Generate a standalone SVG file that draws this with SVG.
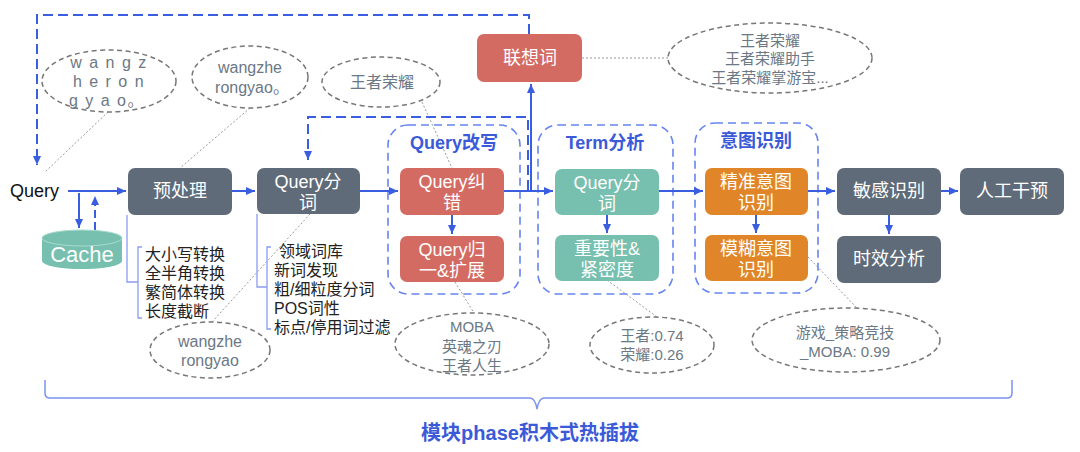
<svg xmlns="http://www.w3.org/2000/svg" width="1080" height="452" viewBox="0 0 1080 452">
<defs>
<marker id="arr" markerUnits="userSpaceOnUse" markerWidth="9" markerHeight="8" refX="9" refY="4" orient="auto"><path d="M0,0 L9,4 L0,8 z" fill="#3a5ee0"/></marker>
<style>
text{font-family:"Liberation Sans","Noto Sans CJK SC",sans-serif;}
.box{stroke:none;}
.gray{fill:#5f6b78;}
.red{fill:#d46b62;}
.teal{fill:#77bfae;}
.orange{fill:#e08629;}
.bt{fill:#ffffff;font-size:18px;text-anchor:middle;}
.grp{fill:none;stroke:#6685ef;stroke-width:1.6;stroke-dasharray:8 5;}
.gt{fill:#3a5ad8;font-size:18px;font-weight:bold;text-anchor:middle;}
.ell{fill:none;stroke:#777;stroke-width:1.5;stroke-dasharray:5 3.5;}
.et{fill:#6b7885;font-size:15px;text-anchor:middle;}
.lead{fill:none;stroke:#999;stroke-width:1;stroke-dasharray:2 2;}
.sol{fill:none;stroke:#3a5ee0;stroke-width:2;}
.dsh{fill:none;stroke:#3a5ee0;stroke-width:2;stroke-dasharray:10 5;}
.brk{fill:none;stroke:#8a9cf0;stroke-width:1.3;}
.lt{fill:#222;font-size:16px;}
</style>
</defs>

<g id="leaders">
<line class="lead" x1="108" y1="112" x2="45" y2="172"/>
<line class="lead" x1="250" y1="108" x2="180" y2="168"/>
<line class="lead" x1="422" y1="102" x2="452" y2="168"/>
<line class="lead" x1="582" y1="58" x2="669" y2="58"/>
<line class="lead" x1="212" y1="322" x2="310" y2="214"/>
<line class="lead" x1="455" y1="282" x2="474" y2="313"/>
<line class="lead" x1="607" y1="280" x2="657" y2="317"/>
<line class="lead" x1="808" y1="257" x2="857" y2="308"/>
</g>

<g id="groups">
<g id="g-rewrite"><rect class="grp" x="388" y="125" width="132" height="169" rx="20"/><text class="gt" x="454" y="149">Query改写</text></g>
<g id="g-term"><rect class="grp" x="538" y="125" width="135" height="169" rx="20"/><text class="gt" x="605" y="149">Term分析</text></g>
<g id="g-intent"><rect class="grp" x="695" y="123" width="123" height="170" rx="20"/><text class="gt" x="756" y="147">意图识别</text></g>
</g>

<g id="connectors">
<path class="dsh" d="M529,34 V15 H37 V165" marker-end="url(#arr)"/>
<path class="dsh" d="M528,190 V117 H308 V160" marker-end="url(#arr)"/>
<path class="sol" d="M531,191 V84" marker-end="url(#arr)"/>
<path class="sol" d="M68,191 H126" marker-end="url(#arr)"/>
<path class="sol" d="M79,193 V228" marker-end="url(#arr)"/>
<path class="dsh" d="M95,230 V196" marker-end="url(#arr)" style="stroke-dasharray:8 4"/>
<path class="sol" d="M232,191 H255" marker-end="url(#arr)"/>
<path class="sol" d="M360,191 H398" marker-end="url(#arr)"/>
<path class="sol" d="M504,191 H553" marker-end="url(#arr)"/>
<path class="sol" d="M452,215 V234" marker-end="url(#arr)"/>
<path class="sol" d="M607,215 V233" marker-end="url(#arr)"/>
<path class="sol" d="M659,191 H703" marker-end="url(#arr)"/>
<path class="sol" d="M756,215 V233" marker-end="url(#arr)"/>
<path class="sol" d="M808,191 H835" marker-end="url(#arr)"/>
<path class="sol" d="M941,191 H958" marker-end="url(#arr)"/>
<path class="sol" d="M889,215 V234" marker-end="url(#arr)"/>
<path class="brk" d="M127,215 V282 H138"/>
<path class="brk" d="M142,247 H138 V318 H142"/>
<path class="brk" d="M257,214 V287 H267"/>
<path class="brk" d="M271,247 H267 V329 H271"/>
<path class="brk" style="stroke:#7b93ee;stroke-width:1.5" d="M45,380 V393 Q45,398 50,398 H530 Q535,398 537,409 Q539,398 544,398 H1007 Q1012,398 1012,393 V380"/>
</g>

<g id="query"><text x="10" y="197" style="font-size:18px;fill:#111">Query</text></g>

<g id="cache">
<path d="M42,238 A40,8 0 0 1 122,238 L122,261 A40,8 0 0 1 42,261 Z" fill="#77bfae"/>
<ellipse cx="82" cy="238" rx="40" ry="8" fill="none" stroke="#a9dccf" stroke-width="1"/>
<text x="82" y="262" style="fill:#fff;font-size:22px;text-anchor:middle">Cache</text>
</g>

<g id="preprocess"><rect class="box gray" x="128" y="168" width="104" height="47" rx="7"/><text class="bt" x="180" y="197">预处理</text></g>
<g id="segment"><rect class="box gray" x="257" y="168" width="103" height="46" rx="7"/><text class="bt" x="308" y="188">Query分</text><text class="bt" x="308" y="209">词</text></g>
<g id="correct"><rect class="box red" x="400" y="168" width="104" height="47" rx="7"/><text class="bt" x="452" y="188">Query纠</text><text class="bt" x="452" y="209">错</text></g>
<g id="normalize"><rect class="box red" x="400" y="236" width="104" height="46" rx="7"/><text class="bt" x="452" y="256">Query归</text><text class="bt" x="452" y="277">一&amp;扩展</text></g>
<g id="assoc"><rect class="box red" x="477" y="34" width="105" height="48" rx="7"/><text class="bt" x="530" y="64">联想词</text></g>
<g id="term-seg"><rect class="box teal" x="555" y="169" width="104" height="46" rx="7"/><text class="bt" x="607" y="189">Query分</text><text class="bt" x="607" y="210">词</text></g>
<g id="importance"><rect class="box teal" x="555" y="235" width="104" height="46" rx="7"/><text class="bt" x="607" y="255">重要性&amp;</text><text class="bt" x="607" y="276">紧密度</text></g>
<g id="precise"><rect class="box orange" x="705" y="168" width="103" height="47" rx="7"/><text class="bt" x="756" y="188">精准意图</text><text class="bt" x="756" y="209">识别</text></g>
<g id="fuzzy"><rect class="box orange" x="705" y="235" width="103" height="46" rx="7"/><text class="bt" x="756" y="255">模糊意图</text><text class="bt" x="756" y="276">识别</text></g>
<g id="sensitive"><rect class="box gray" x="837" y="168" width="104" height="47" rx="7"/><text class="bt" x="889" y="197">敏感识别</text></g>
<g id="manual"><rect class="box gray" x="960" y="168" width="104" height="47" rx="7"/><text class="bt" x="1012" y="197">人工干预</text></g>
<g id="timeliness"><rect class="box gray" x="837" y="236" width="104" height="47" rx="7"/><text class="bt" x="889" y="265">时效分析</text></g>

<g id="list-pre">
<text class="lt" x="145" y="260">大小写转换</text>
<text class="lt" x="145" y="279">全半角转换</text>
<text class="lt" x="145" y="298">繁简体转换</text>
<text class="lt" x="145" y="317">长度截断</text>
</g>
<g id="list-seg">
<text class="lt" x="279" y="257">领域词库</text>
<text class="lt" x="274" y="276">新词发现</text>
<text class="lt" x="274" y="295">粗/细粒度分词</text>
<text class="lt" x="274" y="314">POS词性</text>
<text class="lt" x="274" y="333">标点/停用词过滤</text>
</g>

<g id="e-spaced"><ellipse class="ell" cx="109" cy="81" rx="67" ry="31"/>
<text class="et" x="109" y="68" style="font-size:16px;letter-spacing:1.5px">w a n g z</text>
<text class="et" x="109" y="87" style="font-size:16px;letter-spacing:1.5px">h e r o n</text>
<text class="et" x="107" y="106" style="font-size:16px;letter-spacing:1.5px">g y a o。</text>
</g>
<g id="e-wangzhe1"><ellipse class="ell" cx="250" cy="77" rx="58" ry="31"/>
<text class="et" x="250" y="73" style="font-size:16px">wangzhe</text>
<text class="et" x="252" y="93" style="font-size:16px">rongyao。</text>
</g>
<g id="e-wzry"><ellipse class="ell" cx="381" cy="82" rx="59" ry="25"/><text class="et" x="382" y="88" style="font-size:16px">王者荣耀</text></g>
<g id="e-assoc"><ellipse class="ell" cx="770" cy="58" rx="102" ry="35"/>
<text class="et" x="770" y="46">王者荣耀</text>
<text class="et" x="770" y="64">王者荣耀助手</text>
<text class="et" x="770" y="83">王者荣耀掌游宝...</text>
</g>
<g id="e-wangzhe2"><ellipse class="ell" cx="210" cy="350" rx="60" ry="28"/>
<text class="et" x="210" y="347" style="font-size:16px">wangzhe</text>
<text class="et" x="210" y="366" style="font-size:16px">rongyao</text>
</g>
<g id="e-moba"><ellipse class="ell" cx="472" cy="344" rx="77" ry="31"/>
<text class="et" x="472" y="332">MOBA</text>
<text class="et" x="472" y="352">英魂之刃</text>
<text class="et" x="472" y="371">王者人生</text>
</g>
<g id="e-weight"><ellipse class="ell" cx="652" cy="345" rx="62" ry="28"/>
<text class="et" x="652" y="341">王者:0.74</text>
<text class="et" x="652" y="360">荣耀:0.26</text>
</g>
<g id="e-intent"><ellipse class="ell" cx="846" cy="340" rx="94" ry="32"/>
<text class="et" x="845" y="338">游戏_策略竞技</text>
<text class="et" x="845" y="357">_MOBA: 0.99</text>
</g>

<g id="footer"><text x="530" y="440" style="fill:#3a5ad8;font-size:20px;font-weight:bold;text-anchor:middle">模块phase积木式热插拔</text></g>
</svg>
